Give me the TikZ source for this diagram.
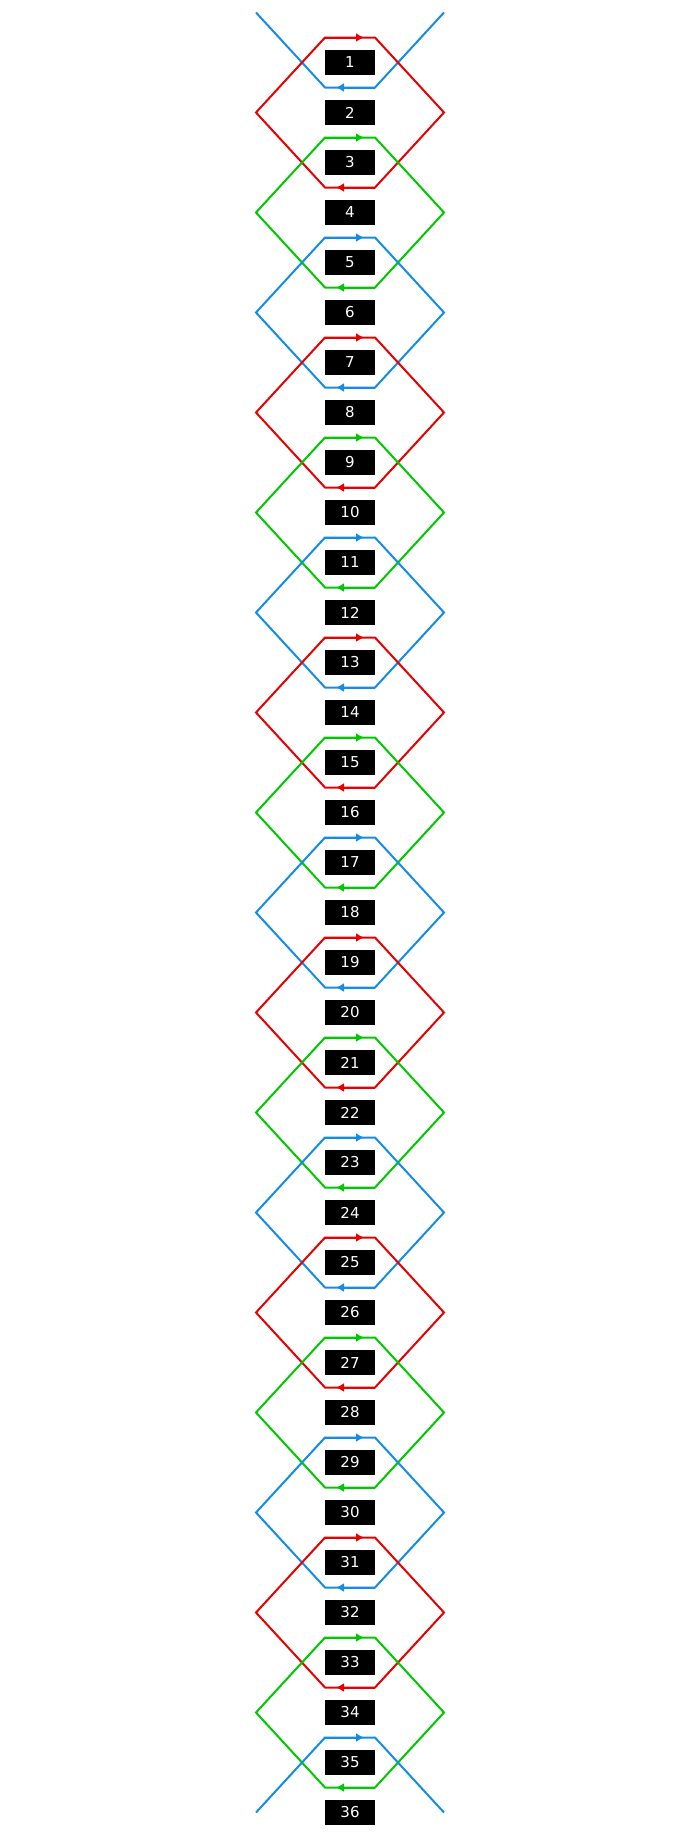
\documentclass[tikz,border=0pt]{standalone}
\usepackage{fontspec}
\setmainfont{DejaVu Sans}
\usetikzlibrary{arrows.meta}

\definecolor{hex1}{RGB}{230,0,0}
\definecolor{hex2}{RGB}{0,200,0}
\definecolor{hex0}{RGB}{20,140,230}

\begin{document}
\begin{tikzpicture}[x=1pt, y=-1pt]

            % Stijlen voor de lijnen en de labels
            \tikzset{
                hexline/.style={line width=2pt, line join=miter},
                hexarrow/.style={line width=2pt, -{Latex[length=8pt, width=9pt]}},
                labelbox/.style={fill=black, text=white, minimum width=50pt, minimum height=25pt,
                    inner sep=0pt, font=\fontsize{15}{18}\selectfont}
            }

            % --- KADER ---
            \useasboundingbox (0,0) rectangle (700,1848);

            % --- HALVE ZESHOEK BOVENAAN ---
            \draw[hexline, hex0] (256,12.5) -- (325,87.5) -- (375,87.5) -- (444,12.5);
            \draw[hexarrow, hex0] (375,87.5) -- (336,87.5);

            % --- VOLLEDIGE ZESHOEKEN ---
            \foreach \k [evaluate=\k as \c using {int(mod(\k,3))},
                         evaluate=\k as \cy using {12.5+100*\k}] in {1,...,17} {
                \draw[hexline, hex\c] (256,\cy) -- (325,\cy-75) -- (375,\cy-75)
                    -- (444,\cy) -- (375,\cy+75) -- (325,\cy+75) -- cycle;
                % pijl naar rechts bovenaan, naar links onderaan
                \draw[hexarrow, hex\c] (325,\cy-75) -- (364,\cy-75);
                \draw[hexarrow, hex\c] (375,\cy+75) -- (336,\cy+75);
            }

            % --- HALVE ZESHOEK ONDERAAN ---
            \draw[hexline, hex0] (256,1812.5) -- (325,1737.5) -- (375,1737.5) -- (444,1812.5);
            \draw[hexarrow, hex0] (325,1737.5) -- (364,1737.5);

            % --- GENUMMERDE LABELS ---
            \foreach \n in {1,...,36} {
                \node[labelbox] (lab\n) at (350,{62.5+50*(\n-1)}) {\n};
            }

\end{tikzpicture}
\end{document}
